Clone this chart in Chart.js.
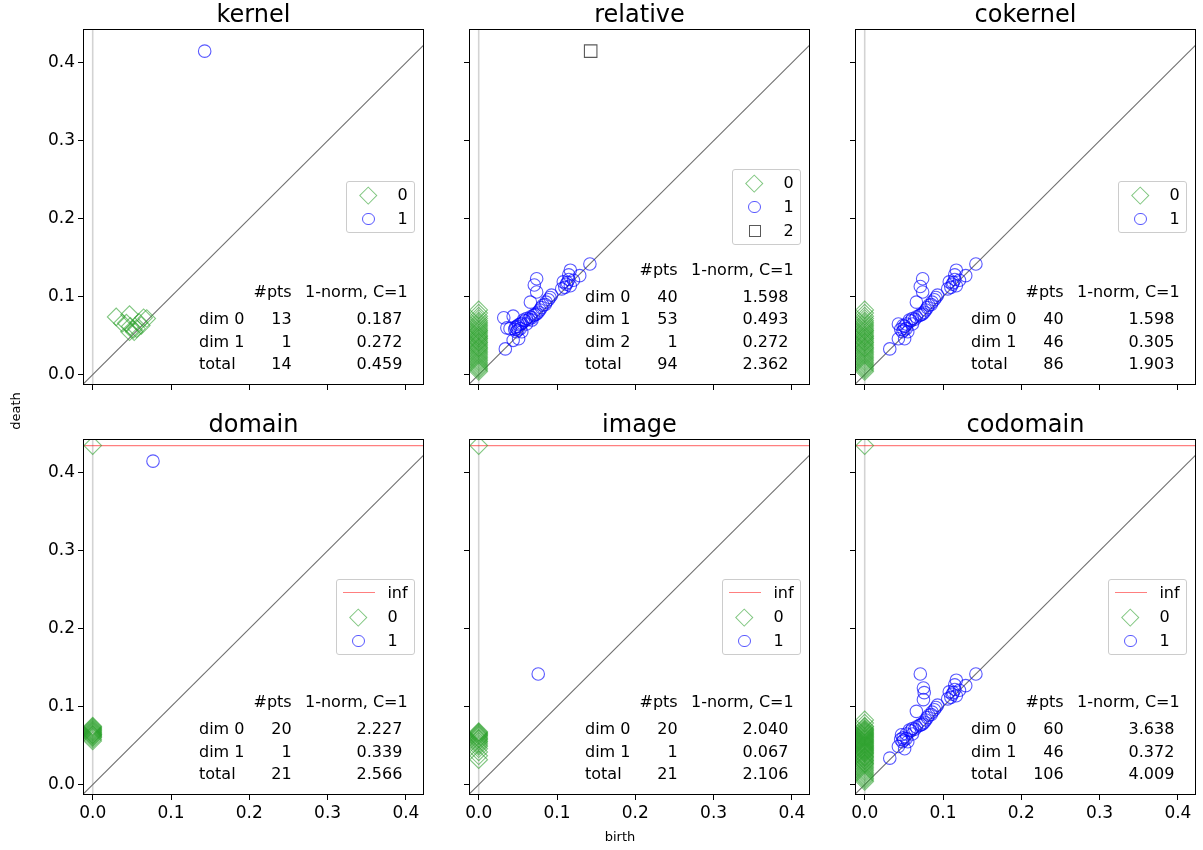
<!DOCTYPE html>
<html>
<head>
<meta charset="utf-8">
<script src="https://cdn.jsdelivr.net/npm/chart.js@4.4.1/dist/chart.umd.min.js"></script>
<style>
  body { margin: 0; background: #fff; width: 1203px; height: 850px; overflow: hidden; position: relative;
         font-family: "DejaVu Sans", sans-serif; color: #000; }
  .abs { position: absolute; white-space: nowrap; }
  .title { font-size: 24px; line-height: 24px; text-align: center; }
  .cell { font-size: 16px; line-height: 16px; }
  .legend { position: absolute; background: rgba(255,255,255,0.8); border: 1px solid #ccc; border-radius: 3px;
            padding: 5.4px 6.4px 5.4px 5.4px; box-sizing: content-box; }
  .lrow { display: flex; align-items: center; height: 16px; font-size: 16px; line-height: 16px; }
  .lrow + .lrow { margin-top: 8px; }
  .handle { width: 32px; height: 16px; display: flex; align-items: center; justify-content: center; margin-right: 12.8px; }
  .axlabel { font-size: 13px; line-height: 13px; }
</style>
</head>
<body>
<script>
const INF = 0.435;
const tickValues = [0, 0.1, 0.2, 0.3, 0.4];
const titles = ["kernel", "relative", "cokernel", "domain", "image", "codomain"];

// kernel
const kernelDim0 = [[0.030, 0.074], [0.047, 0.077], [0.038, 0.066], [0.043, 0.066], [0.048, 0.062], [0.052, 0.058],
  [0.047, 0.055], [0.053, 0.055], [0.059, 0.067], [0.065, 0.073], [0.069, 0.072], [0.062, 0.063], [0.056, 0.059]];
const kernelDim1 = [[0.143, 0.415]];

// relative / cokernel share the dim 0 deaths (all born at 0)
const relativeDim0 = [0.083, 0.079, 0.075, 0.072, 0.069, 0.067, 0.065, 0.063, 0.061, 0.059, 0.057, 0.056, 0.054,
  0.052, 0.050, 0.049, 0.047, 0.046, 0.044, 0.042, 0.041, 0.039, 0.037, 0.035, 0.034, 0.032, 0.030, 0.028, 0.026,
  0.024, 0.022, 0.020, 0.018, 0.016, 0.014, 0.012, 0.010, 0.008, 0.006, 0.004];
const relativeDim1 = [[0.142, 0.142], [0.129, 0.127], [0.117, 0.134], [0.115, 0.128], [0.108, 0.119], [0.112, 0.116],
  [0.117, 0.114], [0.110, 0.112], [0.121, 0.121], [0.106, 0.110], [0.115, 0.122], [0.113, 0.118],
  [0.074, 0.123], [0.071, 0.115], [0.074, 0.106], [0.066, 0.093], [0.032, 0.073],
  [0.034, 0.033], [0.044, 0.044], [0.051, 0.046], [0.036, 0.060], [0.040, 0.059], [0.044, 0.075],
  [0.093, 0.102], [0.091, 0.099], [0.089, 0.096], [0.086, 0.093], [0.085, 0.090], [0.082, 0.089], [0.080, 0.086],
  [0.078, 0.083], [0.076, 0.080], [0.074, 0.078], [0.072, 0.077], [0.070, 0.076], [0.068, 0.073], [0.066, 0.074],
  [0.064, 0.071], [0.061, 0.072], [0.059, 0.069], [0.057, 0.070], [0.055, 0.066], [0.053, 0.065], [0.051, 0.064],
  [0.049, 0.062], [0.047, 0.061], [0.046, 0.058], [0.048, 0.055], [0.050, 0.057], [0.053, 0.059], [0.055, 0.055],
  [0.061, 0.065], [0.068, 0.070]];
const relativeDim2 = [[0.143, 0.415]];

const cokernelDim0 = relativeDim0;
const cokernelDim1 = [[0.142, 0.142], [0.129, 0.127], [0.117, 0.134], [0.115, 0.128], [0.108, 0.119], [0.112, 0.116],
  [0.117, 0.114], [0.110, 0.112], [0.121, 0.121], [0.106, 0.110], [0.115, 0.122], [0.113, 0.118],
  [0.074, 0.123], [0.071, 0.113], [0.074, 0.106], [0.066, 0.093],
  [0.032, 0.033], [0.043, 0.046], [0.051, 0.046], [0.043, 0.065], [0.049, 0.063],
  [0.093, 0.102], [0.091, 0.099], [0.089, 0.096], [0.086, 0.093], [0.085, 0.090], [0.082, 0.089], [0.080, 0.086],
  [0.078, 0.083], [0.076, 0.080], [0.074, 0.078], [0.072, 0.077], [0.070, 0.076], [0.066, 0.074],
  [0.064, 0.071], [0.061, 0.072], [0.059, 0.069], [0.057, 0.070], [0.053, 0.065], [0.051, 0.062],
  [0.046, 0.058], [0.048, 0.055], [0.050, 0.057], [0.053, 0.059], [0.055, 0.055], [0.061, 0.065]];

// domain / image / codomain: dim 0 has one essential class drawn on the inf line
const domainDim0 = [0.075, 0.074, 0.073, 0.072, 0.071, 0.070, 0.069, 0.068, 0.067, 0.066, 0.065, 0.064, 0.064,
  0.063, 0.062, 0.061, 0.060, 0.058, 0.056];
const domainDim1 = [[0.077, 0.415]];

const imageDim0 = [0.068, 0.067, 0.066, 0.065, 0.064, 0.063, 0.062, 0.060, 0.059, 0.058, 0.056, 0.055, 0.053,
  0.051, 0.049, 0.046, 0.042, 0.037, 0.032];
const imageDim1 = [[0.076, 0.142]];

const codomainDim0 = relativeDim0.concat([0.074, 0.071, 0.070, 0.068, 0.066, 0.064, 0.062, 0.060, 0.058, 0.055,
  0.053, 0.051, 0.048, 0.045, 0.043, 0.040, 0.036, 0.031, 0.027]);
const codomainDim1 = [[0.142, 0.142], [0.129, 0.127], [0.117, 0.134], [0.115, 0.128], [0.108, 0.119], [0.112, 0.116],
  [0.117, 0.114], [0.110, 0.112], [0.121, 0.121], [0.106, 0.110], [0.115, 0.122], [0.113, 0.118],
  [0.071, 0.142], [0.075, 0.124], [0.076, 0.118], [0.075, 0.109], [0.066, 0.094],
  [0.032, 0.034], [0.043, 0.049], [0.051, 0.046], [0.047, 0.064], [0.049, 0.060],
  [0.093, 0.102], [0.091, 0.099], [0.089, 0.096], [0.086, 0.093], [0.085, 0.090], [0.082, 0.089], [0.080, 0.086],
  [0.078, 0.083], [0.076, 0.080], [0.074, 0.078], [0.072, 0.077], [0.070, 0.076], [0.066, 0.074],
  [0.064, 0.071], [0.061, 0.072], [0.059, 0.069], [0.057, 0.070], [0.053, 0.065],
  [0.046, 0.058], [0.048, 0.055], [0.050, 0.057], [0.053, 0.059], [0.055, 0.055], [0.061, 0.065]];

// summary tables
const kernelTable = [["dim 0", 13, "0.187"], ["dim 1", 1, "0.272"], ["total", 14, "0.459"]];
const relativeTable = [["dim 0", 40, "1.598"], ["dim 1", 53, "0.493"], ["dim 2", 1, "0.272"], ["total", 94, "2.362"]];
const cokernelTable = [["dim 0", 40, "1.598"], ["dim 1", 46, "0.305"], ["total", 86, "1.903"]];
const domainTable = [["dim 0", 20, "2.227"], ["dim 1", 1, "0.339"], ["total", 21, "2.566"]];
const imageTable = [["dim 0", 20, "2.040"], ["dim 1", 1, "0.067"], ["total", 21, "2.106"]];
const codomainTable = [["dim 0", 60, "3.638"], ["dim 1", 46, "0.372"], ["total", 106, "4.009"]];

const born0 = (deaths) => deaths.map((d) => ({ x: 0, y: d }));
const pairs = (list) => list.map(([b, d]) => ({ x: b, y: d }));

const panels = [
  { series: [pairs(kernelDim0), pairs(kernelDim1)], inf: false, table: kernelTable },
  { series: [born0(relativeDim0), pairs(relativeDim1), pairs(relativeDim2)], inf: false, table: relativeTable },
  { series: [born0(cokernelDim0), pairs(cokernelDim1)], inf: false, table: cokernelTable },
  { series: [born0(domainDim0).concat([{ x: 0, y: INF }]), pairs(domainDim1)], inf: true, table: domainTable },
  { series: [born0(imageDim0).concat([{ x: 0, y: INF }]), pairs(imageDim1)], inf: true, table: imageTable },
  { series: [born0(codomainDim0).concat([{ x: 0, y: INF }]), pairs(codomainDim1)], inf: true, table: codomainTable },
];

const dimStyle = [
  { pointStyle: "rectRot", radius: 8.8, color: "rgba(44,160,44,0.6)", css: "width:12.5px;height:12.5px;transform:rotate(45deg);" },
  { pointStyle: "circle", radius: 6.25, color: "rgba(0,0,255,0.65)", css: "width:12.5px;height:12.5px;border-radius:50%;" },
  { pointStyle: "rect", radius: 8.84, color: "rgba(0,0,0,0.65)", css: "width:12px;height:12px;" },
];
const infColor = "rgba(255,0,0,0.5)";

// layout of the 2x3 grid (pixels)
const colLeft = [83, 469, 855];
const rowTop = [29, 439];
const W = 341, H = 356, AXW = 60, AXH = 40, PADT = 40, PADR = 10;
const xRange = [-0.0124, 0.4231];
const yRange = [-0.0133, 0.4434];

const spines = {
  id: "spines",
  afterDraw(chart) {
    const { ctx, chartArea: a } = chart;
    ctx.save();
    ctx.strokeStyle = "#000";
    ctx.lineWidth = 1;
    ctx.strokeRect(Math.round(a.left) + 0.5, Math.round(a.top) + 0.5,
      Math.round(a.right - a.left) - 1, Math.round(a.bottom - a.top) - 1);
    ctx.restore();
  },
};

function add(html, cls, css) {
  const d = document.createElement("div");
  d.className = cls;
  d.style.cssText = css;
  d.innerHTML = html;
  document.body.appendChild(d);
  return d;
}

panels.forEach((p, i) => {
  const col = i % 3, row = Math.floor(i / 3);
  const L = colLeft[col], T = rowTop[row];

  const wrap = add("", "abs", `left:${L - AXW}px;top:${T - PADT}px;width:${W + AXW + PADR}px;height:${H + PADT + AXH}px;`);
  const canvas = document.createElement("canvas");
  canvas.width = W + AXW + PADR;
  canvas.height = H + PADT + AXH;
  wrap.appendChild(canvas);

  const datasets = [
    { data: [{ x: -1, y: -1 }, { x: 1, y: 1 }], showLine: true, borderColor: "#707070", borderWidth: 1.1, pointRadius: 0, order: 20 },
    { data: [{ x: 0, y: -1 }, { x: 0, y: 1 }], showLine: true, borderColor: "#d3d3d3", borderWidth: 1.6, pointRadius: 0, order: 21 },
  ];
  if (p.inf) {
    datasets.push({ data: [{ x: -1, y: INF }, { x: 1, y: INF }], showLine: true, borderColor: infColor, borderWidth: 1.2, pointRadius: 0, order: 19 });
  }
  p.series.forEach((pts, dim) => {
    const s = dimStyle[dim];
    datasets.push({
      data: pts, pointStyle: s.pointStyle, pointRadius: s.radius, borderColor: s.color,
      backgroundColor: "rgba(0,0,0,0)", pointBorderWidth: 1.1, order: 10 - dim,
    });
  });

  const tickFont = { family: "DejaVu Sans", size: 17 };
  new Chart(canvas, {
    type: "scatter",
    data: { datasets },
    options: {
      responsive: false,
      animation: false,
      events: [],
      layout: { padding: { top: PADT, right: PADR, left: 0, bottom: 0 } },
      plugins: { legend: { display: false }, tooltip: { enabled: false } },
      scales: {
        x: {
          type: "linear", min: xRange[0], max: xRange[1],
          afterBuildTicks: (s) => { s.ticks = tickValues.map((v) => ({ value: v })); },
          afterFit: (s) => { s.height = AXH; },
          grid: { drawOnChartArea: false, drawTicks: true, tickLength: 5, tickColor: "#000" },
          border: { display: false },
          ticks: { display: row === 1, color: "#000", font: tickFont, padding: 3, maxRotation: 0, autoSkip: false,
                   callback: (v) => v.toFixed(1) },
        },
        y: {
          type: "linear", min: yRange[0], max: yRange[1],
          afterBuildTicks: (s) => { s.ticks = tickValues.map((v) => ({ value: v })); },
          afterFit: (s) => { s.width = AXW; },
          grid: { drawOnChartArea: false, drawTicks: true, tickLength: 5, tickColor: "#000" },
          border: { display: false },
          ticks: { display: col === 0, color: "#000", font: tickFont, padding: 3, autoSkip: false,
                   callback: (v) => v.toFixed(1) },
        },
      },
    },
    plugins: [spines],
  });

  // title
  add(titles[i], "abs title", `left:${L}px;width:${W}px;top:${T - 6.3 - 0.846 * 24}px;`);

  // summary table, anchored to the bottom of the axes
  const rows = p.table;
  const baseTotal = T + H - 15;
  const lineGap = 22.5;
  rows.forEach((r, k) => {
    const base = baseTotal - (rows.length - 1 - k) * lineGap;
    const top = base - 0.846 * 16;
    add(r[0], "abs cell", `left:${L + 116}px;top:${top}px;`);
    add(String(r[1]), "abs cell", `right:${1203 - (L + 208.7)}px;top:${top}px;`);
    add(r[2], "abs cell", `right:${1203 - (L + 319.3)}px;top:${top}px;`);
  });
  const headBase = baseTotal - (rows.length - 1) * lineGap - 27;
  add("#pts", "abs cell", `right:${1203 - (L + 208.7)}px;top:${headBase - 0.846 * 16}px;`);
  add("1-norm, C=1", "abs cell", `right:${1203 - (L + 324.7)}px;top:${headBase - 0.846 * 16}px;`);

  // legend, centre right of the axes
  let entries = "";
  if (p.inf) {
    entries += `<div class="lrow"><div class="handle"><div style="width:32px;height:1px;background:${infColor}"></div></div>inf</div>`;
  }
  p.series.forEach((pts, dim) => {
    const s = dimStyle[dim];
    entries += `<div class="lrow"><div class="handle"><div style="box-sizing:border-box;border:1px solid ${s.color};${s.css}"></div></div>${dim}</div>`;
  });
  const lg = add(entries, "legend", `right:${1203 - (L + W - 9)}px;top:0px;`);
  lg.style.top = (T + H / 2 - lg.offsetHeight / 2) + "px";
});

add("death", "abs axlabel", "left:15px;top:411px;transform:translate(-50%,-50%) rotate(-90deg);");
add("birth", "abs axlabel", "left:620px;top:836px;transform:translate(-50%,-50%);");
</script>
</body>
</html>
